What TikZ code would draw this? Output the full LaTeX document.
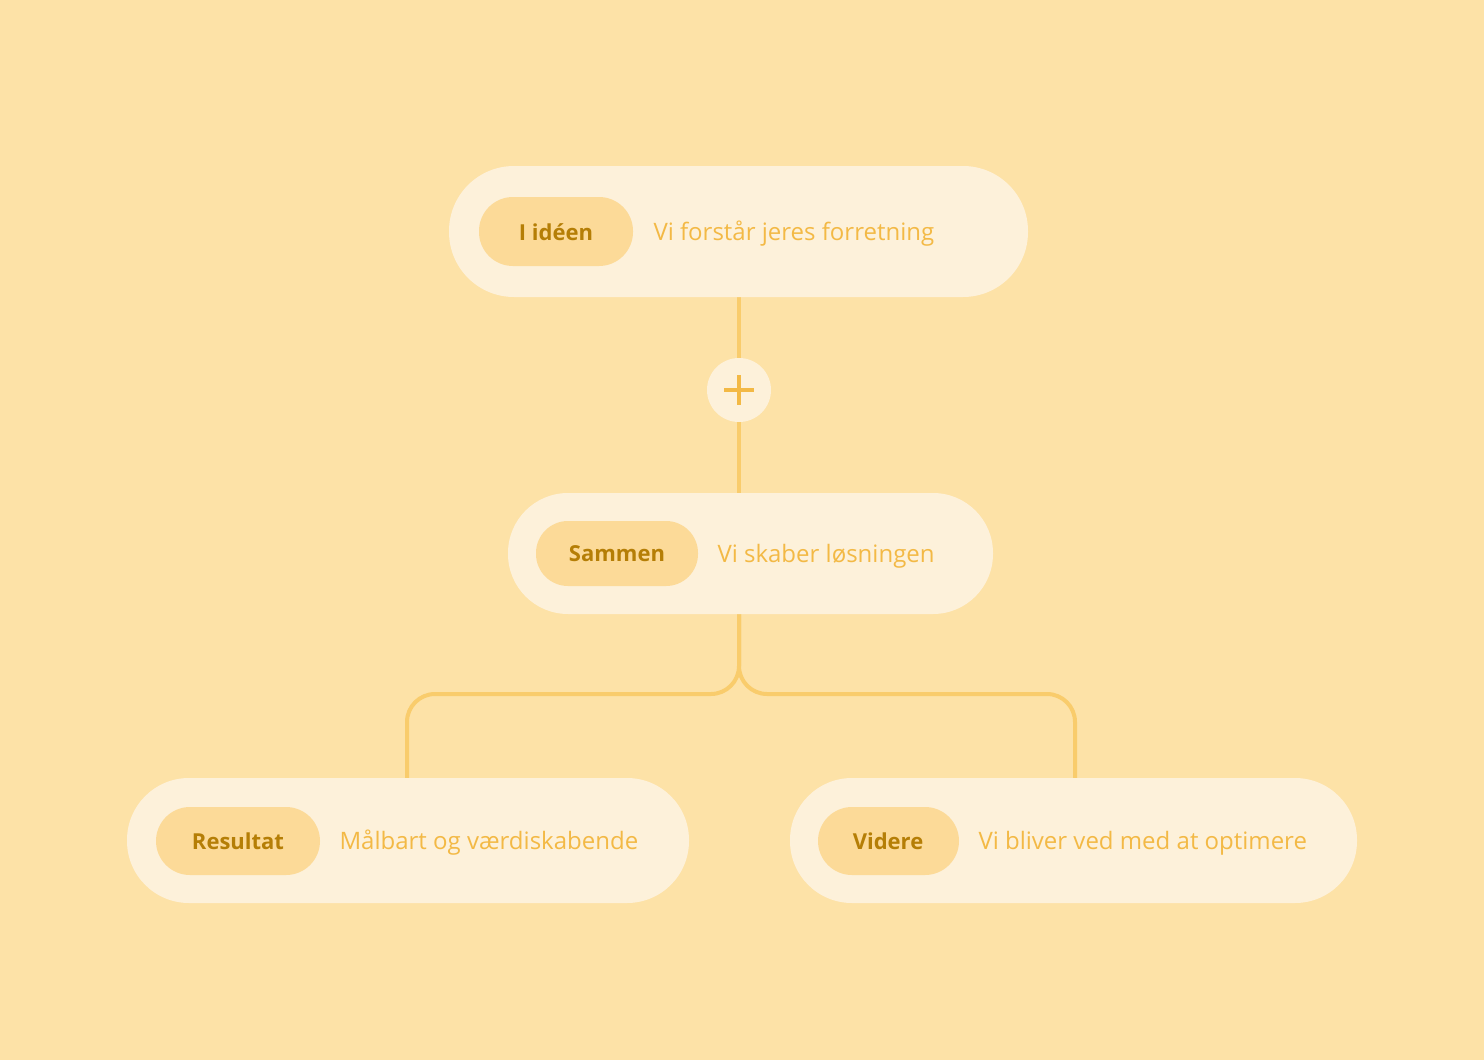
\documentclass[tikz,border=0pt]{standalone}
\usepackage{fontspec}
\setmainfont{Open Sans}
\definecolor{bg}{HTML}{FDE2A7}
\definecolor{pill}{HTML}{FDF1DA}
\definecolor{inner}{HTML}{FCDA98}
\definecolor{dark}{HTML}{B57E06}
\definecolor{light}{HTML}{F3B945}
\definecolor{ln}{HTML}{F9CC6C}
\begin{document}
\begin{tikzpicture}[x=1pt,y=-1pt,
  outer/.style={fill=pill,rounded corners=65},
  innerp/.style={fill=inner,rounded corners=34},
  lab/.style={text=dark,font=\fontsize{22}{26}\selectfont\bfseries},
  desc/.style={text=light,font=\fontsize{24}{28}\selectfont,anchor=west},
  conn/.style={draw=ln,line width=4,rounded corners=28}]
\fill[bg] (0,0) rectangle (1484,1060);
\useasboundingbox (0,0) rectangle (1484,1060);
% connectors
\coordinate (topb) at (739,297);
\coordinate (midt) at (739,493);
\coordinate (midb) at (739,614);
\coordinate (lt) at (407,778);
\coordinate (rt) at (1075,778);
\draw[conn] (topb) -- (midt);
\draw[conn] (midb) -- (739,694) -- (407,694) -- (lt);
\draw[conn] (midb) -- (739,694) -- (1075,694) -- (rt);
\node[circle,fill=pill,minimum size=64,inner sep=0] (plus) at (739,390) {};
\draw[light,line width=3.5] (724,390) -- (754,390) (739,375) -- (739,405);
% top
\fill[outer] (449,166) rectangle (1028,297);
\fill[innerp] (479,197) rectangle (633,266);
\node[lab] (a) at (556,232) {I idéen};
\node[desc] (ad) at (650,234) {Vi forstår jeres forretning};
% middle
\fill[outer,rounded corners=60] (508,493) rectangle (993,614);
\fill[innerp,rounded corners=32] (536,521) rectangle (698,586);
\node[lab] (b) at (617,554) {Sammen};
\node[desc] (bd) at (714,556) {Vi skaber løsningen};
% bottom left
\fill[outer,rounded corners=62] (127,778) rectangle (689,903);
\fill[innerp] (156,807) rectangle (320,875);
\node[lab] (c) at (238,841) {Resultat};
\node[desc] (cd) at (336,843) {Målbart og værdiskabende};
% bottom right
\fill[outer,rounded corners=62] (790,778) rectangle (1357,903);
\fill[innerp] (818,807) rectangle (959,875);
\node[lab] (d) at (888,841) {Videre};
\node[desc] (dd) at (975,843) {Vi bliver ved med at optimere};
\end{tikzpicture}
\end{document}
